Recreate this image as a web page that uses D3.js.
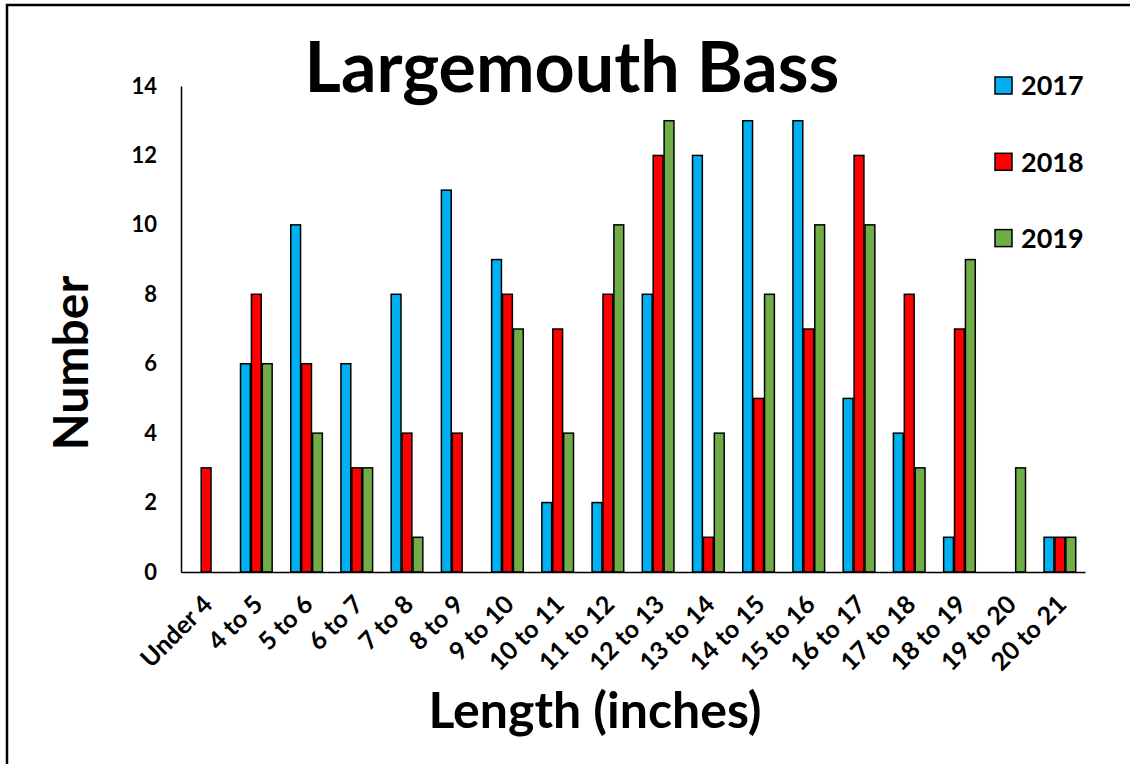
<html><head>
<title>Largemouth Bass</title>
<script src="https://d3js.org/d3.v7.min.js"></script>
<style>
  body { margin: 0; background: #fff; }
  text { font-family: Lato, sans-serif; font-weight: bold; fill: #000; }
</style>
</head>
<body>
<svg id="chart" width="1130" height="764"></svg>
<script>
const categories = ["Under 4", "4 to 5", "5 to 6", "6 to 7", "7 to 8", "8 to 9", "9 to 10",
  "10 to 11", "11 to 12", "12 to 13", "13 to 14", "14 to 15", "15 to 16", "16 to 17",
  "17 to 18", "18 to 19", "19 to 20", "20 to 21"];
const years = ["2017", "2018", "2019"];
const counts2017 = [0, 6, 10, 6, 8, 11, 9, 2, 2, 8, 12, 13, 13, 5, 4, 1, 0, 1];
const counts2018 = [3, 8, 6, 3, 4, 4, 8, 7, 8, 12, 1, 5, 7, 12, 8, 7, 0, 1];
const counts2019 = [0, 6, 4, 3, 1, 0, 7, 4, 10, 13, 4, 8, 10, 10, 3, 9, 3, 1];
const yTicks = [0, 2, 4, 6, 8, 10, 12, 14];
const colors = ["#00B0F0", "#FF0000", "#70AD47"];

const svg = d3.select("#chart");
const margin = { top: 86, right: 45, bottom: 192, left: 181 };
const width = +svg.attr("width");
const height = +svg.attr("height");

// outer frame (right and bottom edges fall off the picture)
svg.append("rect")
   .attr("x", 7).attr("y", 5)
   .attr("width", 1140).attr("height", 780)
   .attr("fill", "none").attr("stroke", "#000").attr("stroke-width", 2.5);

const x0 = d3.scaleBand().domain(categories)
             .range([margin.left, width - margin.right])
             .paddingInner(0.37).paddingOuter(0.185);
const x1 = d3.scaleBand().domain(years)
             .range([0, x0.bandwidth()])
             .paddingInner(0.1);
const y = d3.scaleLinear().domain([0, 14])
            .range([height - margin.bottom, margin.top]);

const series = [counts2017, counts2018, counts2019];
const rows = [];
categories.forEach((c, i) => {
  years.forEach((yr, j) => rows.push({ cat: c, year: yr, value: series[j][i], color: colors[j] }));
});

svg.append("g").selectAll("rect.bar")
   .data(rows.filter(d => d.value > 0))
   .join("rect")
   .attr("class", "bar")
   .attr("x", d => x0(d.cat) + x1(d.year))
   .attr("y", d => y(d.value))
   .attr("width", x1.bandwidth())
   .attr("height", d => y(0) - y(d.value))
   .attr("fill", d => d.color)
   .attr("stroke", "#000")
   .attr("stroke-width", 1.5);

// y axis
const yAxis = svg.append("g")
   .attr("transform", `translate(${margin.left},0)`)
   .call(d3.axisLeft(y).tickValues(yTicks).tickSize(0).tickSizeOuter(0).tickPadding(24));
yAxis.select(".domain").attr("stroke", "#000").attr("stroke-width", 1.5);
yAxis.selectAll("text").style("font-family", "Lato, sans-serif").style("font-weight", "bold")
     .style("font-size", "22px");

// x axis
const xAxis = svg.append("g")
   .attr("transform", `translate(0,${height - margin.bottom})`)
   .call(d3.axisBottom(x0).tickSize(0).tickSizeOuter(0));
xAxis.select(".domain").attr("stroke", "#000").attr("stroke-width", 1.5);
xAxis.selectAll("text")
     .style("font-family", "Lato, sans-serif").style("font-weight", "bold")
     .style("font-size", "25px")
     .attr("y", 0).attr("dy", 0)
     .attr("text-anchor", "end")
     .attr("transform", "translate(8,34) rotate(-45)");

// titles
svg.append("text").text("Largemouth Bass")
   .attr("x", 572).attr("y", 92)
   .attr("text-anchor", "middle")
   .style("font-size", "70px");

svg.append("text").text("Number")
   .attr("text-anchor", "middle")
   .attr("transform", "translate(88,363) rotate(-90)")
   .style("font-size", "48px");

svg.append("text").text("Length (inches)")
   .attr("x", 595).attr("y", 728)
   .attr("text-anchor", "middle")
   .style("font-size", "50px");

// legend
const legend = svg.append("g").selectAll("g.key")
   .data(years)
   .join("g")
   .attr("class", "key")
   .attr("transform", (d, i) => `translate(995,${85.5 + i * 76.3})`);
legend.append("rect")
   .attr("x", 0).attr("y", -8.5)
   .attr("width", 17).attr("height", 17)
   .attr("fill", (d, i) => colors[i])
   .attr("stroke", "#000").attr("stroke-width", 1.5);
legend.append("text").text(d => d)
   .attr("x", 26).attr("dy", "0.36em")
   .style("font-size", "27px");
</script>
</body>
</html>
